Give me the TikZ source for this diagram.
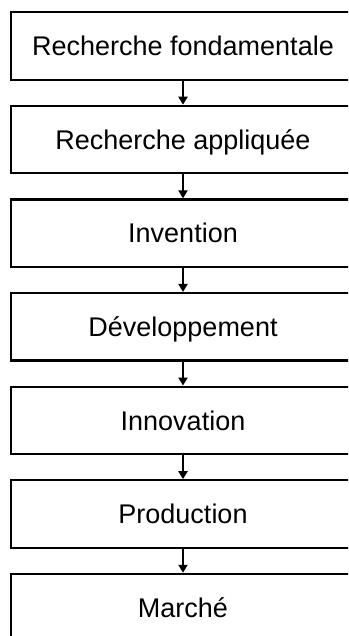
\documentclass[tikz,border=0pt]{standalone}
\usepackage{fontspec}
\setmainfont{Liberation Sans}
\usetikzlibrary{arrows.meta}

\begin{document}
\begin{tikzpicture}[x=1pt,y=-1pt]
\tikzstyle{etape}=[draw=black, line width=2.2pt, minimum width=344pt, minimum height=67.5pt, inner sep=0pt, text height=19.3pt, text depth=0pt, font=\fontsize{27}{32}\selectfont]
\tikzstyle{fleche}=[draw=black, line width=2pt, -{Triangle[width=9pt,length=8pt]}]
\useasboundingbox (0,0) rectangle (348,636);
\clip (0,0) rectangle (348,636);
\node[etape] (fond) at (183,46) {Recherche fondamentale};
\node[etape] (appl) at (183,139.6) {Recherche appliquée};
\node[etape] (inv) at (183,233.2) {Invention};
\node[etape] (dev) at (183,326.8) {Développement};
\node[etape] (innov) at (183,420.4) {Innovation};
\node[etape] (prod) at (183,514) {Production};
\node[etape] (marche) at (183,607.6) {Marché};
\draw[fleche] (fond.south) -- (appl.north);
\draw[fleche] (appl.south) -- (inv.north);
\draw[fleche] (inv.south) -- (dev.north);
\draw[fleche] (dev.south) -- (innov.north);
\draw[fleche] (innov.south) -- (prod.north);
\draw[fleche] (prod.south) -- (marche.north);
\end{tikzpicture}
\end{document}
